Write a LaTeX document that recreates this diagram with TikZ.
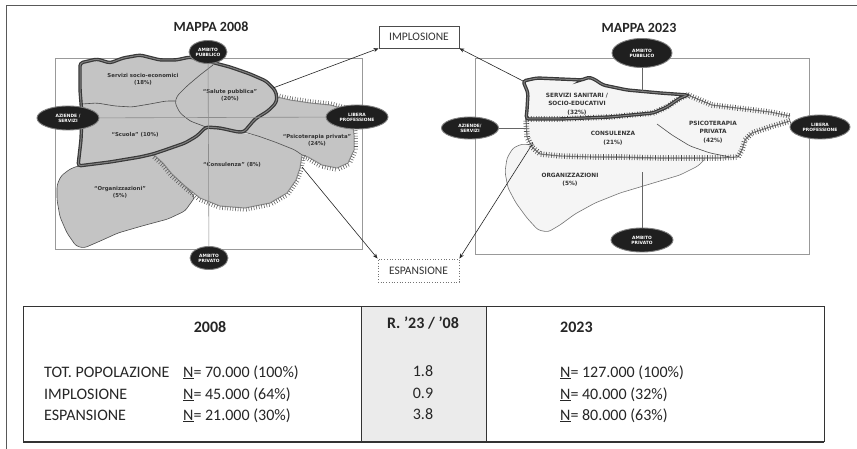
\documentclass[tikz,border=0pt]{standalone}
\usepackage{fontspec}
\setmainfont{Carlito}
\newfontfamily\mapfont{DejaVu Sans}
\usetikzlibrary{shapes.geometric,decorations.pathreplacing,arrows.meta}
\begin{document}
\begin{tikzpicture}[x=1pt,y=-1pt,
  outer/.style={draw=black!65, line width=1pt},
  mapframe/.style={draw=black!40, line width=0.6pt},
  crossline/.style={draw=black!45, line width=0.6pt},
  amb/.style={ellipse, fill=black!88, draw=black!50, line width=0.9pt, text=white,
    font=\mapfont\fontsize{4.4}{5}\selectfont\bfseries, align=center, inner sep=0pt},
  labL/.style={font=\mapfont\fontsize{5.4}{7}\selectfont\bfseries, align=center, text=black!80},
  labR/.style={font=\mapfont\fontsize{5.8}{8.5}\selectfont\bfseries, align=center, text=black!80},
  fillL/.style={fill=black!23},
  fillR/.style={fill=black!4},
  thinb/.style={draw=black!70, line width=0.6pt, rounded corners=3pt},
  implo/.style={draw=black!78, line width=1.2pt, double=black!50, double distance=1pt, rounded corners=3pt},
  hatchL/.style={draw=black!45, line width=1pt,
    postaction={draw=black!65, line width=0.55pt, decorate,
      decoration={border, segment length=2.6pt, amplitude=3.8pt, angle=90}}},
  hatchR/.style={draw=black!50, line width=1.1pt,
    postaction={draw=black!70, line width=0.6pt, decorate,
      decoration={ticks, segment length=2.6pt, amplitude=2.8pt}}},
  box/.style={draw=black!70, line width=0.7pt, minimum width=80pt, minimum height=22pt,
    inner sep=0pt, font=\fontsize{11.5}{12}\selectfont, text=black!80},
  arr/.style={draw=black!85, line width=0.6pt, -{Stealth[length=5pt,width=4pt]}},
  title/.style={font=\fontsize{14}{15}\selectfont\bfseries, text=black!85},
  tab/.style={font=\fontsize{16}{18}\selectfont, text=black!85, inner sep=0pt},
  tabh/.style={font=\fontsize{16}{18}\selectfont\bfseries, text=black!85, inner sep=0pt}
]
\useasboundingbox (0,0) rectangle (857,449);
\fill[white] (0,0) rectangle (857,449);

% outer frame
\draw[outer] (6,449) -- (6,6) -- (857,6);

% titles
\node[title] (t1) at (211,27) {MAPPA 2008};
\node[title] (t2) at (639,28) {MAPPA 2023};

% map frames
\draw[mapframe] (55,58) rectangle (362,249);
\draw[mapframe] (475,58) rectangle (809,254);

% ================= LEFT MAP =================
% Organizzazioni
\path[fillL, thinb] (78,166) -- (110,162) -- (140,157) -- (153,154) -- (163,163) -- (172,174) -- (185,186) -- (195,197)
  -- (185,211) -- (168,219) -- (142,226) -- (118,233) -- (98,242) -- (84,248) -- (76,246) -- (67,233)
  -- (60,217) -- (57,200) -- (57,185) -- (61,176) -- (70,169) -- cycle;
% Consulenza
\fill[fillL, rounded corners=3pt] (153,154) -- (165,150) -- (185,143) -- (197,136) -- (206,127) -- (220,128) -- (238,132)
  -- (258,136) -- (275,142) -- (295,150) -- (302,155) -- (300,168) -- (296,180) -- (287,193) -- (270,203)
  -- (245,208) -- (220,206) -- (200,198) -- (185,186) -- (172,174) -- (163,163) -- cycle;
% Psicoterapia privata
\fill[fillL, rounded corners=3pt] (244,132) -- (255,119) -- (268,111) -- (276,103) -- (277,97) -- (290,100) -- (310,103)
  -- (330,105) -- (345,109) -- (352,118) -- (354,135) -- (354,150) -- (348,163) -- (337,168) -- (322,165)
  -- (308,157) -- (302,155) -- (295,150) -- (275,142) -- (258,136) -- cycle;
% implosion area (Servizi, Salute pubblica, Scuola)
\fill[fillL, rounded corners=3pt] (80,63) -- (97,59) -- (110,63) -- (123,58) -- (140,55) -- (160,60) -- (176,60) -- (190,57)
  -- (207,61) -- (230,67) -- (250,74) -- (266,81) -- (275,90) -- (277,97) -- (276,103) -- (268,111) -- (255,119)
  -- (244,132) -- (238,132) -- (220,128) -- (206,127) -- (197,136) -- (185,143) -- (165,150) -- (153,154)
  -- (140,157) -- (110,162) -- (78,166) -- (81,140) -- (82,115) -- (80,90) -- cycle;

% thin dividers
\draw[thinb] (244,132) -- (258,136) -- (275,142) -- (295,150) -- (302,155);
\draw[thinb] (213,65) -- (200,75) -- (187,86) -- (177,96) -- (175,103) -- (180,113) -- (190,121) -- (206,127);
\draw[thinb] (82,104) -- (97,103) -- (115,106) -- (132,107) -- (150,104) -- (166,101) -- (175,101);

% hatched (expansion) borders
\draw[hatchL] (277,97) -- (290,100) -- (310,103) -- (330,105) -- (345,109) -- (352,118) -- (354,135) -- (354,150)
  -- (348,163) -- (337,168) -- (322,165) -- (308,157) -- (302,155);
\draw[hatchL] (302,155) -- (300,168) -- (296,180) -- (287,193) -- (270,203) -- (245,208) -- (220,206) -- (200,198)
  -- (185,186) -- (172,174) -- (163,163) -- (153,154);

% thick implosion outline
\draw[implo] (80,63) -- (97,59) -- (110,63) -- (123,58) -- (140,55) -- (160,60) -- (176,60) -- (190,57)
  -- (207,61) -- (230,67) -- (250,74) -- (266,81) -- (275,90) -- (277,97) -- (276,103) -- (268,111) -- (255,119)
  -- (244,132) -- (238,132) -- (220,128) -- (206,127) -- (197,136) -- (185,143) -- (165,150) -- (153,154)
  -- (140,157) -- (110,162) -- (78,166) -- (81,140) -- (82,115) -- (80,90) -- cycle;

% left labels
\node[labL] (l1) at (143,79) {Servizi socio-economici\\(18\%)};
\node[labL] (l2) at (230,95) {“Salute pubblica”\\(20\%)};
\node[labL] (l3) at (135,135) {“Scuola” (10\%)};
\node[labL] (l4) at (317,140) {“Psicoterapia privata”\\(24\%)};
\node[labL] (l5) at (232,165) {“Consulenza” (8\%)};
\node[labL] (l6) at (120,192) {“Organizzazioni”\\(5\%)};

% left ellipses
\node[amb, minimum width=38pt, minimum height=23pt] (pubL) at (208,52) {AMBITO\\PUBBLICO};
\node[amb, minimum width=62pt, minimum height=24pt] (azL) at (68,118) {AZIENDE /\\SERVIZI};
\node[amb, minimum width=62pt, minimum height=24pt] (libL) at (357,117) {LIBERA\\PROFESSIONE};
\node[amb, minimum width=38pt, minimum height=23pt] (prL) at (209,258) {AMBITO\\PRIVATO};

\draw[crossline] (azL) -- (libL);
\draw[crossline] (pubL) -- (prL);

% ================= RIGHT MAP =================
% Organizzazioni
\path[fillR, draw=black!55, line width=0.6pt, rounded corners=3pt] (537,146) -- (532,145) -- (522,144) -- (513,148) -- (507,158)
  -- (505,172) -- (508,188) -- (516,203) -- (527,218) -- (538,230) -- (548,232) -- (560,225) -- (575,214)
  -- (595,203) -- (620,193) -- (650,184) -- (680,175) -- (698,166) -- (706,158) -- (670,158) -- (637,158)
  -- (603,157) -- (570,156) -- (545,153) -- cycle;
% Consulenza + Psicoterapia
\fill[fillR, rounded corners=3pt] (526,119) -- (560,119) -- (610,117) -- (653,113) -- (667,107) -- (680,98) -- (688,95)
  -- (700,100) -- (712,105) -- (737,108) -- (770,112) -- (790,116) -- (788,122) -- (770,127) -- (752,133)
  -- (745,140) -- (742,150) -- (738,157) -- (720,158) -- (700,158) -- (660,158) -- (620,157) -- (593,157)
  -- (560,156) -- (540,154) -- (532,147) -- (527,137) -- cycle;
% Servizi sanitari
\fill[fillR, rounded corners=3pt] (526,119) -- (527,110) -- (528,93) -- (523,81) -- (537,78) -- (560,79) -- (583,80)
  -- (588,77) -- (594,79) -- (603,85) -- (627,90) -- (660,93) -- (688,95) -- (680,98) -- (667,107) -- (653,113)
  -- (610,117) -- (560,119) -- cycle;

% divider consulenza / psicoterapia
\draw[thinb] (657,124) -- (672,135) -- (690,146) -- (710,153) -- (730,157);

% hatched borders
\draw[hatchR] (688,95) -- (700,100) -- (712,105) -- (737,108) -- (770,112) -- (790,116);
\draw[hatchR] (790,121) -- (770,127) -- (752,133) -- (745,140) -- (742,150) -- (738,157) -- (720,158) -- (700,158)
  -- (660,158) -- (620,157) -- (593,157) -- (560,156) -- (540,154) -- (532,147) -- (527,137) -- (526,119);
\draw[hatchR] (526,119) -- (560,119) -- (610,117) -- (653,113) -- (667,107) -- (680,98) -- (688,95);

% thick outline
\draw[implo] (526,119) -- (527,110) -- (528,93) -- (523,81) -- (537,78) -- (560,79) -- (583,80)
  -- (588,77) -- (594,79) -- (603,85) -- (627,90) -- (660,93) -- (688,95) -- (680,98) -- (667,107) -- (653,113)
  -- (610,117) -- (560,119) -- cycle;

% right labels
\node[labR] (r1) at (577,104) {SERVIZI SANITARI /\\SOCIO-EDUCATIVI\\(32\%)};
\node[labR] (r2) at (613,138) {CONSULENZA\\(21\%)};
\node[labR] (r3) at (713,132) {PSICOTERAPIA\\PRIVATA\\(42\%)};
\node[labR] (r4) at (570,179.5) {ORGANIZZAZIONI\\(5\%)};

% right ellipses
\node[amb, minimum width=60pt, minimum height=29pt] (pubR) at (642,53) {AMBITO\\PUBBLICO};
\node[amb, minimum width=57pt, minimum height=22pt] (azR) at (470,128) {AZIENDE/\\SERVIZI};
\node[amb, minimum width=60pt, minimum height=24pt] (libR) at (820,127) {LIBERA\\PROFESSIONE};
\node[amb, minimum width=62pt, minimum height=24pt] (prR) at (642,240) {AMBITO\\PRIVATO};

\coordinate (pubRend) at (642,91);
\coordinate (azRend) at (526,128);
\coordinate (prRend) at (642,172);
\draw[crossline, draw=black!60] (pubR) -- (pubRend);
\draw[crossline, draw=black!60] (azR) -- (azRend);
\draw[crossline, draw=black!60] (prR) -- (prRend);

% ================= CENTRE =================
\node[box] (imp) at (419,37) {IMPLOSIONE};
\node[box, draw=black!55, dotted, line width=0.9pt, minimum width=81pt, minimum height=23pt] (esp) at (418.5,270.5) {ESPANSIONE};

\coordinate (Limp) at (273,88);
\coordinate (Rimp) at (523,81);
\coordinate (Lesp) at (302,167);
\coordinate (Resp) at (533,143);
\draw[arr] (Limp) -- (imp.south west);
\draw[arr] (Rimp) -- (imp.south east);
\draw[arr] (Lesp) -- (esp.north west);
\draw[arr] (Resp) -- (esp.north east);

% ================= TABLE =================
\fill[black!8] (361,306) rectangle (486,442);
\draw[draw=black!80, line width=0.8pt] (23,442) -- (23,306) -- (824,306) -- (824,442);
\draw[draw=black!80, line width=1.3pt] (23,442) -- (824,442);
\draw[draw=black!80, line width=0.8pt] (361,306) -- (361,442);
\draw[draw=black!80, line width=0.8pt] (486,306) -- (486,442);

\node[tabh, anchor=base] (h1) at (210,332) {2008};
\node[tabh, anchor=base] (h2) at (423,328) {R. ’23 / ’08};
\node[tabh, anchor=base west] (h3) at (560,332) {2023};

\node[tab, anchor=base west] (a1) at (44,377) {TOT. POPOLAZIONE};
\node[tab, anchor=base west] (a2) at (44,399) {IMPLOSIONE};
\node[tab, anchor=base west] (a3) at (44,420) {ESPANSIONE};

\node[tab, anchor=base west] (b1) at (183,377) {\underline{N}= 70.000 (100\%)};
\node[tab, anchor=base west] (b2) at (183,399) {\underline{N}= 45.000 (64\%)};
\node[tab, anchor=base west] (b3) at (183,420) {\underline{N}= 21.000 (30\%)};

\node[tab, anchor=base] (c1) at (423,376) {1.8};
\node[tab, anchor=base] (c2) at (423,398) {0.9};
\node[tab, anchor=base] (c3) at (423,419) {3.8};

\node[tab, anchor=base west] (d1) at (560,377) {\underline{N}= 127.000 (100\%)};
\node[tab, anchor=base west] (d2) at (560,399) {\underline{N}= 40.000 (32\%)};
\node[tab, anchor=base west] (d3) at (560,420) {\underline{N}= 80.000 (63\%)};
\end{tikzpicture}
\end{document}
